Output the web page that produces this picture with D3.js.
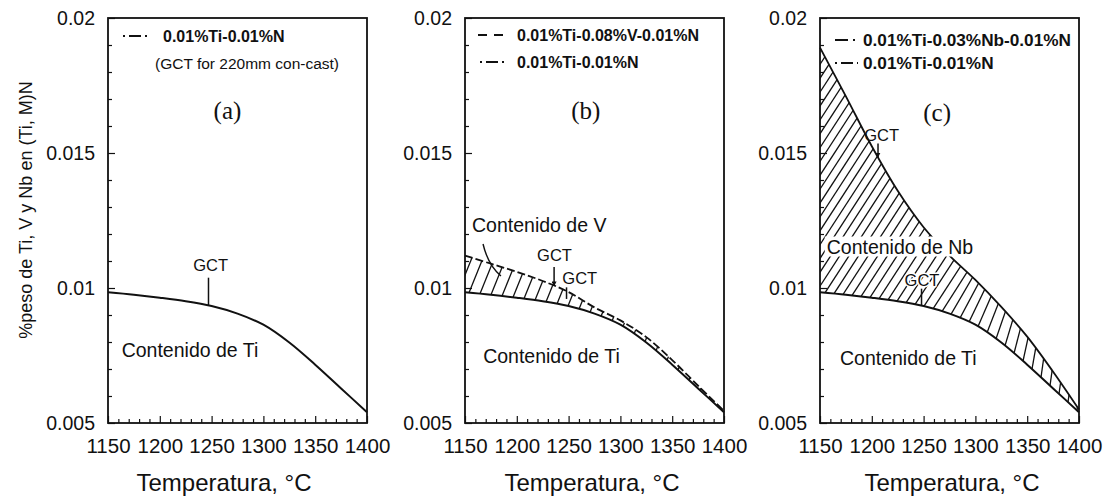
<!DOCTYPE html>
<html>
<head>
<meta charset="utf-8">
<script src="https://cdn.jsdelivr.net/npm/d3@7"></script>
<style>
  body { margin: 0; background: #fff; }
  svg { display: block; font-family: "Liberation Sans", Arial, sans-serif; }
</style>
</head>
<body>
<svg id="chart" width="1110" height="498"></svg>
<script>
// Temperature grid (°C) and equilibrium contents in (Ti,M)N (wt%)
const temps = [1150, 1175, 1200, 1225, 1250, 1275, 1300, 1325, 1350, 1375, 1400];
const tiContent   = [0.00984, 0.00975, 0.00964, 0.00951, 0.00933, 0.00905, 0.00864, 0.00798, 0.00716, 0.00628, 0.00540];
const tiVContent  = [0.01120, 0.01090, 0.01060, 0.01026, 0.00985, 0.00928, 0.00880, 0.00818, 0.00733, 0.00638, 0.00545];
const tiNbContent = [0.01890, 0.01710, 0.01525, 0.01360, 0.01225, 0.01120, 0.01030, 0.00930, 0.00820, 0.00690, 0.00550];

// Axis ticks
const xTickValues = [1150, 1200, 1250, 1300, 1350, 1400];
const xTickLabels = ["1150", "1200", "1250", "1300", "1350", "1400"];
const xMinorValues = [1160, 1170, 1180, 1190, 1210, 1220, 1230, 1240, 1260, 1270, 1280, 1290,
                      1310, 1320, 1330, 1340, 1360, 1370, 1380, 1390];
const yTickValues = [0.005, 0.01, 0.015, 0.02];
const yTickLabels = ["0.005", "0.01", "0.015", "0.02"];
const yMinorValues = [0.006, 0.007, 0.008, 0.009, 0.011, 0.012, 0.013, 0.014, 0.016, 0.017, 0.018, 0.019];

// Legend entries per panel
const legendA = [{ text: "0.01%Ti-0.01%N", dash: "2,4,12,4,2,200" }];
const legendB = [{ text: "0.01%Ti-0.08%V-0.01%N", dash: "9,7,9,200" },
                 { text: "0.01%Ti-0.01%N", dash: "2,4,12,4,2,200" }];
const legendC = [{ text: "0.01%Ti-0.03%Nb-0.01%N", dash: "13,5,2,200" },
                 { text: "0.01%Ti-0.01%N", dash: "2,4,12,4,2,200" }];

const TOP = 18, BOTTOM = 423;
const INK = "#111";
const svg = d3.select("#chart");
const smooth = d3.curveCatmullRom.alpha(0.5);

const defs = svg.append("defs");
defs.append("marker")
  .attr("id", "arrowHead").attr("viewBox", "0 0 8 8")
  .attr("refX", 7).attr("refY", 4)
  .attr("markerWidth", 5).attr("markerHeight", 5)
  .attr("markerUnits", "userSpaceOnUse").attr("orient", "auto")
  .append("path").attr("d", "M0,0 L8,4 L0,8 Z").attr("fill", INK);

function makeScales(left, right) {
  const x = d3.scaleLinear().domain([1150, 1400]).range([left, right]);
  const y = d3.scaleLinear().domain([0.005, 0.02]).range([BOTTOM, TOP]);
  return { x, y };
}

function drawAxes(g, x, y, titleX) {
  const bottom = g.append("g").attr("transform", `translate(0,${BOTTOM})`);
  bottom.append("g")
    .call(d3.axisBottom(x).tickValues(xMinorValues).tickSize(-4).tickFormat(""))
    .call(a => a.select(".domain").remove());
  bottom.append("g")
    .call(d3.axisBottom(x).tickValues(xTickValues).tickSize(-7).tickPadding(15)
      .tickFormat((d, i) => xTickLabels[i]))
    .call(a => a.select(".domain").remove())
    .call(a => a.selectAll("text").attr("font-size", 20.5).attr("fill", INK)
      .attr("font-family", "'Liberation Sans', Arial, sans-serif"));

  const left = g.append("g").attr("transform", `translate(${x.range()[0]},0)`);
  left.append("g")
    .call(d3.axisLeft(y).tickValues(yMinorValues).tickSize(-4).tickFormat(""))
    .call(a => a.select(".domain").remove());
  left.append("g")
    .call(d3.axisLeft(y).tickValues(yTickValues).tickSize(-7).tickPadding(13)
      .tickFormat((d, i) => yTickLabels[i]))
    .call(a => a.select(".domain").remove())
    .call(a => a.selectAll("text").attr("font-size", 19.5).attr("fill", INK)
      .attr("font-family", "'Liberation Sans', Arial, sans-serif"));

  g.selectAll(".tick line").attr("stroke", INK).attr("stroke-width", 1.2);

  g.append("rect")
    .attr("x", x.range()[0]).attr("y", TOP)
    .attr("width", x.range()[1] - x.range()[0]).attr("height", BOTTOM - TOP)
    .attr("fill", "none").attr("stroke", INK).attr("stroke-width", 1.8);

  g.append("text")
    .attr("x", titleX).attr("y", 491)
    .attr("text-anchor", "middle")
    .attr("font-size", 24).attr("fill", INK)
    .text("Temperatura, °C");
}

// Diagonal hatching between two curves, lines rooted on the lower curve
function drawHatch(g, id, x, y, lowerVals, upperVals, opt) {
  const area = d3.area()
    .x((d, i) => x(temps[i]))
    .y0((d, i) => y(lowerVals[i]))
    .y1((d, i) => y(upperVals[i]))
    .curve(smooth);
  g.append("clipPath").attr("id", id).append("path").attr("d", area(temps));
  const lowerAt = d3.scaleLinear().domain(temps).range(lowerVals).clamp(true);
  const [x0, x1] = x.range();
  const roots = d3.range(x0 - opt.lead, x1 + 4, opt.step);
  const L = 460;
  g.append("g").attr("clip-path", `url(#${id})`)
    .selectAll("line").data(roots).join("line")
    .each(function (sx) {
      const sy = y(lowerAt(x.invert(sx)));
      const a = opt.angle(sx) * Math.PI / 180;
      d3.select(this)
        .attr("x1", sx - L * Math.cos(a)).attr("y1", sy + L * Math.sin(a))
        .attr("x2", sx + L * Math.cos(a)).attr("y2", sy - L * Math.sin(a));
    })
    .attr("stroke", INK).attr("stroke-width", 1.3);
}

function drawCurve(g, x, y, vals, dash, width) {
  const line = d3.line()
    .x((d, i) => x(temps[i]))
    .y(d => y(d))
    .curve(smooth);
  g.append("path").attr("d", line(vals))
    .attr("fill", "none").attr("stroke", INK)
    .attr("stroke-width", width || 2)
    .attr("stroke-dasharray", dash || null)
    .attr("stroke-linejoin", "round");
}

function drawLegend(g, left, entries, rows, size) {
  entries.forEach((e, i) => {
    const r = rows[i];
    g.append("line")
      .attr("x1", left + r.lx0).attr("x2", left + r.lx1)
      .attr("y1", TOP + r.dy).attr("y2", TOP + r.dy)
      .attr("stroke", INK).attr("stroke-width", 2)
      .attr("stroke-dasharray", e.dash);
    g.append("text")
      .attr("x", left + r.tx).attr("y", TOP + r.dy)
      .attr("dy", "0.36em")
      .attr("font-size", size).attr("font-weight", "bold").attr("fill", INK)
      .text(e.text);
  });
}

function label(g, x, y, t, v, txt, opt = {}) {
  const el = g.append("text")
    .attr("x", x(t)).attr("y", y(v)).attr("dy", "0.35em")
    .attr("font-size", opt.size || 19.5)
    .attr("text-anchor", opt.anchor || "start")
    .attr("fill", INK)
    .text(txt);
  if (opt.family) el.attr("font-family", opt.family);
  if (opt.halo) el.attr("stroke", "#fff").attr("stroke-width", opt.halo)
    .attr("paint-order", "stroke").attr("stroke-linejoin", "round");
  return el;
}

function pointer(g, x, y, t, v0, v1, arrow) {
  g.append("line")
    .attr("x1", x(t)).attr("x2", x(t))
    .attr("y1", y(v1)).attr("y2", y(v0))
    .attr("stroke", INK).attr("stroke-width", 1.5)
    .attr("marker-end", arrow ? "url(#arrowHead)" : null);
}

const tiAt = d3.scaleLinear().domain(temps).range(tiContent);
const vAt = d3.scaleLinear().domain(temps).range(tiVContent);
const nbAt = d3.scaleLinear().domain(temps).range(tiNbContent);
const serif = "'Liberation Serif', 'Times New Roman', serif";

// ---- Panel (a): Ti-N steel ----
{
  const { x, y } = makeScales(108, 367);
  const g = svg.append("g");
  drawCurve(g, x, y, tiContent);
  drawAxes(g, x, y, 224);
  drawLegend(g, 108, legendA, [{ lx0: 15, lx1: 44, tx: 55, dy: 18 }], 16);
  g.append("text").attr("x", 108 + 47).attr("y", TOP + 45).attr("dy", "0.36em")
    .attr("font-size", 15.5).attr("fill", INK).text("(GCT for 220mm con-cast)");
  label(g, x, y, 1265.3, 0.01659, "(a)", { size: 25, anchor: "middle", family: serif });
  label(g, x, y, 1249, 0.01085, "GCT", { size: 16.5, anchor: "middle" });
  pointer(g, x, y, 1247, tiAt(1247), tiAt(1247) + 0.00103, false);
  label(g, x, y, 1163.2, 0.0077, "Contenido de Ti");
}

// ---- Panel (b): Ti-V-N steel ----
{
  const { x, y } = makeScales(465, 724);
  const g = svg.append("g");
  drawHatch(g, "hatchB", x, y, tiContent, tiVContent, { lead: 40, step: 11, angle: () => 68 });
  drawCurve(g, x, y, tiVContent, "8,3", 1.8);
  drawCurve(g, x, y, tiContent);
  drawAxes(g, x, y, 592);
  drawLegend(g, 465, legendB, [{ lx0: 13, lx1: 38, tx: 52, dy: 17 }, { lx0: 15, lx1: 42, tx: 52, dy: 44 }], 16);
  label(g, x, y, 1266.6, 0.01659, "(b)", { size: 25, anchor: "middle", family: serif });
  label(g, x, y, 1156.8, 0.01233, "Contenido de V");
  const lead = d3.path();
  lead.moveTo(x(1167.4), y(0.01163));
  lead.quadraticCurveTo(x(1172.2), y(0.01085), x(1184.7), y(0.010444));
  g.append("path").attr("d", lead.toString()).attr("fill", "none")
    .attr("stroke", INK).attr("stroke-width", 1.4);
  label(g, x, y, 1236.4, 0.0112, "GCT", { size: 16.5, anchor: "middle" });
  pointer(g, x, y, 1236, vAt(1236), vAt(1236) + 0.0007, true);
  label(g, x, y, 1260.8, 0.01036, "GCT", { size: 16.5, anchor: "middle" });
  pointer(g, x, y, 1248, tiAt(1248) + 0.00025, tiAt(1248) + 0.00068, false);
  label(g, x, y, 1167.5, 0.00746, "Contenido de Ti");
}

// ---- Panel (c): Ti-Nb-N steel ----
{
  const { x, y } = makeScales(820, 1079);
  const g = svg.append("g");
  drawHatch(g, "hatchC", x, y, tiContent, tiNbContent, {
    lead: 175, step: 9,
    angle: sx => sx < 940 ? 57 : sx > 1040 ? 82 : 57 + (sx - 940) / 100 * 25
  });
  drawCurve(g, x, y, tiNbContent, null, 1.8);
  drawCurve(g, x, y, tiContent);
  drawAxes(g, x, y, 952);
  drawLegend(g, 820, legendC, [{ lx0: 15, lx1: 35, tx: 43, dy: 22 }, { lx0: 15, lx1: 38, tx: 43, dy: 45 }], 17.2);
  label(g, x, y, 1263.1, 0.01652, "(c)", { size: 25, anchor: "middle", family: serif });
  label(g, x, y, 1209.5, 0.01567, "GCT", { size: 16.5, anchor: "middle" });
  pointer(g, x, y, 1206, nbAt(1206), nbAt(1206) + 0.0005, true);
  const nbText = label(g, x, y, 1156.5, 0.01153, "Contenido de Nb");
  const bb = nbText.node().getBBox();
  g.insert("rect", () => nbText.node())
    .attr("x", bb.x - 2).attr("y", bb.y + 1)
    .attr("width", bb.width + 3).attr("height", bb.height - 2)
    .attr("fill", "#fff");
  label(g, x, y, 1248.5, 0.0103, "GCT", { size: 16.5, anchor: "middle", halo: 3 });
  pointer(g, x, y, 1248, tiAt(1248), tiAt(1248) + 0.00063, false);
  label(g, x, y, 1169.3, 0.0074, "Contenido de Ti");
}

// Shared y-axis title
svg.append("text")
  .attr("transform", "translate(32,210) rotate(-90)")
  .attr("text-anchor", "middle")
  .attr("font-size", 18).attr("fill", INK)
  .text("%peso de Ti, V y Nb en (Ti, M)N");
</script>
</body>
</html>
